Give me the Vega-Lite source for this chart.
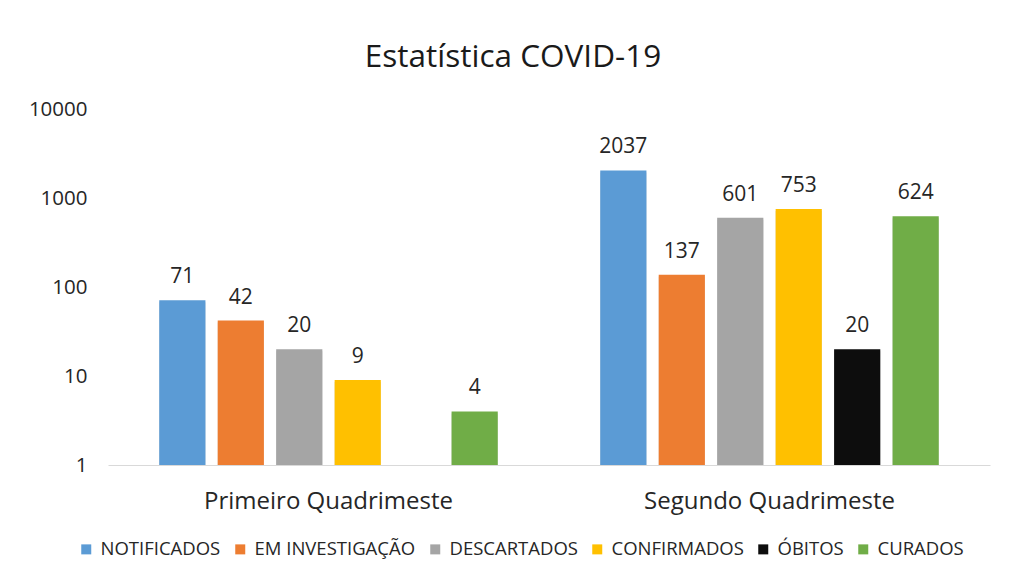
{
  "$schema": "https://vega.github.io/schema/vega-lite/v6.json",
  "width": 882,
  "height": 356,
  "autosize": "none",
  "padding": {"left": 108, "top": 109, "right": 26, "bottom": 123},
  "background": "white",
  "config": {"view": {"stroke": null}},
  "title": {"text": "Estatística COVID-19", "fontSize": 31.5, "font": "Open Sans", "fontWeight": "normal", "color": "#1a1a1a", "anchor": "middle", "dx": -36, "offset": 26},
  "data": {"values": [
    {"periodo": "Primeiro Quadrimeste", "status": "NOTIFICADOS", "valor": 71},
    {"periodo": "Primeiro Quadrimeste", "status": "EM INVESTIGAÇÃO", "valor": 42},
    {"periodo": "Primeiro Quadrimeste", "status": "DESCARTADOS", "valor": 20},
    {"periodo": "Primeiro Quadrimeste", "status": "CONFIRMADOS", "valor": 9},
    {"periodo": "Primeiro Quadrimeste", "status": "CURADOS", "valor": 4},
    {"periodo": "Segundo Quadrimeste", "status": "NOTIFICADOS", "valor": 2037},
    {"periodo": "Segundo Quadrimeste", "status": "EM INVESTIGAÇÃO", "valor": 137},
    {"periodo": "Segundo Quadrimeste", "status": "DESCARTADOS", "valor": 601},
    {"periodo": "Segundo Quadrimeste", "status": "CONFIRMADOS", "valor": 753},
    {"periodo": "Segundo Quadrimeste", "status": "ÓBITOS", "valor": 20},
    {"periodo": "Segundo Quadrimeste", "status": "CURADOS", "valor": 624}
  ]},
  "encoding": {
    "x": {"field": "periodo", "type": "nominal", "sort": ["Primeiro Quadrimeste", "Segundo Quadrimeste"],
      "scale": {"paddingInner": 0.2324, "paddingOuter": 0.1162},
      "axis": {"title": null, "labelAngle": 0, "labelLimit": 0, "labelFont": "Open Sans", "labelFontSize": 24, "labelColor": "#262626", "labelPadding": 24, "ticks": false, "domainColor": "#d9d9d9", "domainWidth": 1}},
    "xOffset": {"field": "status", "type": "nominal",
      "scale": {"domain": ["NOTIFICADOS", "EM INVESTIGAÇÃO", "DESCARTADOS", "CONFIRMADOS", "ÓBITOS", "CURADOS"], "paddingInner": 0.21, "paddingOuter": 0}},
    "y": {"field": "valor", "type": "quantitative", "stack": null,
      "scale": {"type": "log", "domain": [1, 10000]},
      "axis": {"title": null, "values": [1, 10, 100, 1000, 10000], "format": "d", "grid": false, "domain": false, "ticks": false, "labelFont": "Open Sans", "labelFontSize": 20.5, "labelColor": "#262626", "labelPadding": 21}}
  },
  "layer": [
    {"mark": {"type": "bar", "color": "#7f7f7f", "opacity": 0.3, "xOffset": 3, "yOffset": 2}},
    {"mark": {"type": "bar"},
      "encoding": {"color": {"field": "status", "type": "nominal",
        "scale": {"domain": ["NOTIFICADOS", "EM INVESTIGAÇÃO", "DESCARTADOS", "CONFIRMADOS", "ÓBITOS", "CURADOS"],
          "range": ["#5B9BD5", "#ED7D31", "#A5A5A5", "#FFC000", "#0D0D0D", "#70AD47"]},
        "legend": {"title": null, "orient": "none", "legendX": -31, "legendY": 431, "direction": "horizontal", "symbolType": "square", "symbolSize": 100, "symbolStrokeWidth": 0, "labelFont": "Open Sans", "labelFontSize": 18.5, "labelLimit": 0, "labelColor": "#262626", "columnPadding": 10, "labelOffset": 5}}}},
    {"mark": {"type": "text", "baseline": "alphabetic", "dy": -17, "font": "Open Sans", "fontSize": 21, "color": "#262626"},
      "encoding": {"text": {"field": "valor", "type": "quantitative"}}}
  ]
}
